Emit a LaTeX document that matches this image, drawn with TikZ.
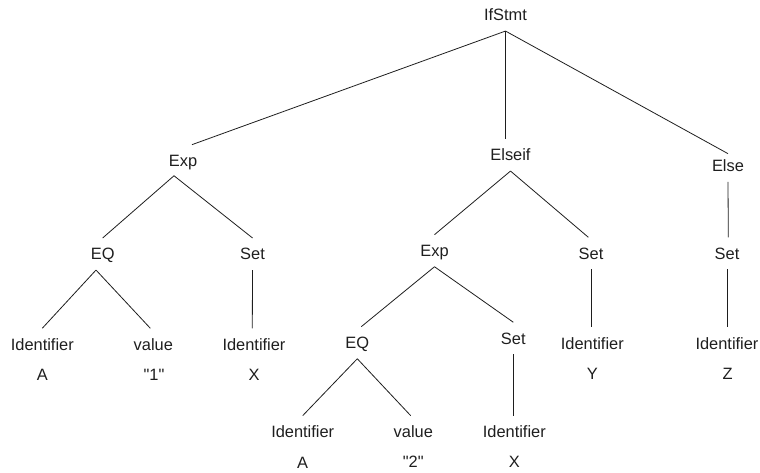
\documentclass[tikz,border=0pt]{standalone}
\usepackage{fontspec}
\setmainfont{Liberation Sans}[Ligatures=TeXOff]
\begin{document}
\definecolor{ink}{RGB}{30,30,30}
\begin{tikzpicture}[x=1pt,y=-1pt,
  lbl/.style={font=\fontsize{16.4}{19}\selectfont, text=ink, text height=11.7pt,
              text depth=0pt, inner xsep=1pt, inner ysep=10pt},
  leaf/.style={lbl},
  branch/.style={draw=ink, line width=0.8pt}]
\useasboundingbox (0,0) rectangle (760,472);

% tree nodes
\node[lbl] (ifstmt) at (505.5,15) {IfStmt};
\node[lbl] (exp1)   at (183,160.7) {Exp};
\node[lbl] (elseif) at (510.5,155) {Elseif};
\node[lbl] (else)   at (728,165.7) {Else};

\node[lbl] (eq1)  at (102.7,254) {EQ};
\node[lbl] (set1) at (252.5,254) {Set};
\node[lbl] (id1)  at (42.3,344.3) {Identifier};
\node[lbl] (val1) at (153.3,344.3) {value};
\node[lbl] (id2)  at (254,344.3) {Identifier};

\node[lbl] (exp2) at (434.5,250.7) {Exp};
\node[lbl] (set2) at (591,253.3) {Set};
\node[lbl] (eq2)  at (357.3,342.7) {EQ};
\node[lbl] (set3) at (513.3,338.3) {Set};
\node[lbl] (id3)  at (302.7,431.7) {Identifier};
\node[lbl] (val2) at (413.3,431.7) {value};
\node[lbl] (id4)  at (514.3,431.7) {Identifier};
\node[lbl] (id5)  at (592.3,343.3) {Identifier};

\node[lbl] (set4) at (727,253.3) {Set};
\node[lbl] (id6)  at (727,343.3) {Identifier};

% token values under the leaves
\node[leaf] (a1)  at (42.3,375)   {A};
\node[leaf] (v1)  at (154,375)    {"1"};
\node[leaf] (x1)  at (254,375)    {X};
\node[leaf] (a2)  at (302.7,462.3) {A};
\node[leaf] (v2)  at (413.3,461.7) {"2"};
\node[leaf] (x2)  at (514.3,461.7) {X};
\node[leaf] (y1)  at (592.3,374)  {Y};
\node[leaf] (z1)  at (727.7,374)  {Z};

% branches
\draw[branch] (ifstmt.south) -- ([xshift=9pt]exp1.north);
\draw[branch] (ifstmt.south) -- ([xshift=-5pt]elseif.north);
\draw[branch] (ifstmt.south) -- ([yshift=-4pt]else.north);

\draw[branch] ([xshift=-9pt,yshift=1pt]exp1.south) -- (eq1.north);
\draw[branch] ([xshift=-9pt,yshift=1pt]exp1.south) -- (set1.north);
\draw[branch] ([xshift=-6.7pt]eq1.south) -- (id1.north);
\draw[branch] ([xshift=-6.7pt]eq1.south) -- ([xshift=-3pt]val1.north);
\draw[branch] (set1.south) -- ([xshift=-1.7pt]id2.north);

\draw[branch] (elseif.south) -- (exp2.north);
\draw[branch] (elseif.south) -- ([xshift=-2.7pt]set2.north);
\draw[branch] (exp2.south) -- ([xshift=4pt]eq2.north);
\draw[branch] (exp2.south) -- (set3.north);
\draw[branch] (eq2.south) -- (id3.north);
\draw[branch] (eq2.south) -- ([xshift=-2.6pt]val2.north);
\draw[branch] (set3.south) -- ([xshift=-1pt]id4.north);
\draw[branch] (set2.south) -- ([xshift=-1.3pt]id5.north);

\draw[branch] (else.south) -- ([xshift=1.3pt]set4.north);
\draw[branch] (set4.south) -- (id6.north);
\end{tikzpicture}
\end{document}
